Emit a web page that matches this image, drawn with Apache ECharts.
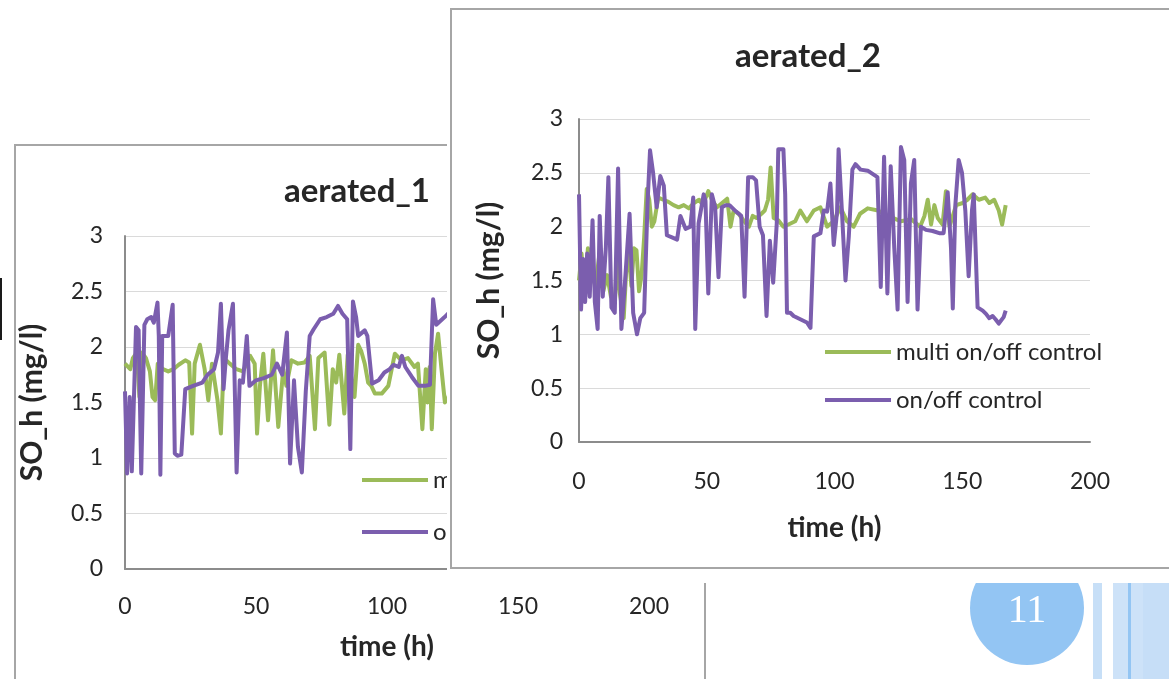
<!DOCTYPE html>
<html><head><meta charset="utf-8">
<script src="https://cdn.jsdelivr.net/npm/echarts@6/dist/echarts.min.js"></script>
<style>html,body{margin:0;padding:0;background:#fff}#c{width:1169px;height:679px}</style>
</head><body><div id="c"></div>
<script>
// ---- data ----
const xTicks = [0, 50, 100, 150, 200];
const yTicks = [0, 0.5, 1, 1.5, 2, 2.5, 3];
const titles = ['aerated_1', 'aerated_2'];
const seriesNames = ['multi on/off control', 'on/off control'];
const xName = 'time (h)';
const yName = 'SO_h (mg/l)';
const slideNumber = '11';

// aerated_1 : multi on/off control
const a1MultiT = [0,2,3,4.5,5.5,6.5,8,9.5,10.5,11.5,12.5,14.5,16.5,18.5,20.5,23,24.5,25.6,26.6,28.6,30.4,31.8,33.2,35.3,36.6,37.8,40,42.5,45,47.8,49.5,50.4,51.5,52.8,54.6,56.5,58.5,60.4,61.6,63.5,66,68.5,70.5,72.5,73.8,76.2,78,79.3,80.6,81.8,83.7,85,87.6,89,90.2,91.5,92.8,94,95.4,98,100.5,103,105.5,108,110.5,111.8,113.5,114.8,115.5,116.3,117.1,118.3,119.5,120.8,122.1,123.5,125.5];
const a1MultiV = [1.85,1.8,1.9,1.95,1.55,1.95,1.9,1.78,1.55,1.52,1.85,1.8,1.78,1.8,1.84,1.88,1.86,1.22,1.85,2.02,1.8,1.52,1.85,1.52,1.22,1.9,1.85,1.8,1.78,1.92,1.85,1.22,1.65,1.94,1.34,1.97,1.28,1.8,1.65,1.88,1.85,1.86,1.92,1.26,1.9,1.95,1.3,1.8,1.68,1.93,1.4,1.93,1.55,2.02,1.96,1.85,1.68,1.65,1.58,1.58,1.65,1.94,1.88,1.9,1.82,1.85,1.26,1.8,1.5,1.82,1.26,1.94,2.12,1.8,1.5,1.55,1.8];
// aerated_1 : on/off control
const a1OnOffT = [0,0.8,1.8,2.6,4.2,5.2,6.2,7.4,8.5,10,11,12.4,12.9,13.5,14.2,16.5,18.2,19,20,21.5,23,26,29.5,31.5,34,35.5,36.6,37.6,38.5,39.5,41.2,42.6,43.8,45,46.5,47.5,50,53,56,58,60,61.8,63,64.5,66,67.5,69,70.5,72,74.5,77,79.5,81.3,83,84.8,86,87,88.2,89,91.5,92.5,94.3,96.8,99,101,102.5,104.5,105.7,107,109.5,112,114.5,116.4,117.6,118.8,122,124.5,126];
const a1OnOffV = [1.6,0.86,1.55,0.88,2.18,2.15,0.86,2.2,2.25,2.27,2.22,2.4,2.1,0.85,2.1,2.1,2.38,1.04,1.02,1.03,1.62,1.65,1.68,1.75,1.8,1.95,2.39,1.62,1.9,2.15,2.39,0.87,1.7,1.68,2.1,1.65,1.7,1.72,1.75,1.85,1.75,2.13,0.95,1.7,1.1,0.87,1.6,2.1,2.16,2.25,2.27,2.3,2.37,2.3,2.25,1.08,2.41,2.27,2.1,2.15,2.1,1.67,1.7,1.77,1.8,1.84,1.82,1.92,1.82,1.73,1.65,1.65,1.66,2.43,2.2,2.27,2.33,2.35];

// aerated_2 : multi on/off control
const a2MultiT = [0,1,2,3.5,5,6.5,8,9.5,11,12.5,14,15,16,17.5,18.5,19.5,20.5,21.5,22.5,23.5,24.5,25.5,26.5,27.5,28.5,29.5,31,33,35,37,39,41,43,45,47,48.5,50.6,52,54,56,58,59.3,60.5,62.5,64.6,66.5,68,69.5,71.4,72.7,74,75,76.2,78,80,82,84.6,86.6,89.2,91.9,94.5,97.1,99.7,102.3,104.9,107.5,110,113,117,121,126,130,133.5,135.2,136.5,137.8,139.1,140.4,142.3,143.6,145,147.6,150.2,152,154,156.5,159,160.6,162.5,164.3,165.6,167];
const a2MultiV = [1.5,1.75,1.4,1.8,1.55,1.45,1.75,1.4,1.55,1.35,1.3,1.7,1.38,1.15,1.6,1.75,1.45,1.8,1.78,1.4,1.55,1.9,2.35,2.25,2.0,2.05,2.27,2.25,2.23,2.2,2.18,2.2,2.17,2.22,2.25,2.2,2.33,2.25,2.18,2.22,2.26,2.0,2.15,2.12,2.05,2.0,2.1,2.08,2.12,2.15,2.25,2.55,2.08,2.06,2.0,2.02,2.05,2.15,2.05,2.15,2.18,2.0,2.05,2.18,2.05,2.0,2.12,2.17,2.15,2.1,2.05,2.07,2.0,2.1,2.25,2.02,2.2,2.08,2.02,2.33,2.0,2.2,2.22,2.25,2.3,2.25,2.27,2.22,2.25,2.15,2.02,2.2];
// aerated_2 : on/off control
const a2OnOffT = [0,0.8,1.6,2.4,3.2,4.2,5.3,6.2,7.3,8.1,9.3,10.5,11.5,12.7,14,15.3,16.6,17.9,19.8,21.2,22.7,24,25.5,26.8,27.8,29,30.4,31.8,33.2,34.4,36.4,38.4,39.7,41.7,43.6,44.7,45.5,46.8,48.8,49.5,50.6,52,53.3,54.6,55.9,57.4,58.9,61.5,63.5,64.8,66.2,68,69.3,70.7,72,73.4,74.7,76,77.4,78,80,80.7,81.4,82.7,84,86.6,89.2,90.6,91.9,94.5,95.8,97.1,98.4,99.7,101,101.6,103,104.3,105.6,107,108.2,110.2,113,116.8,118.1,119.4,120.7,122,123.4,124.7,126,127.3,128.6,129.9,131.2,132.5,133.8,135.8,138.4,141,142.7,144.3,145.6,146.3,147.3,148.6,149.9,151.2,152.5,153.8,154.5,156,158,159.3,160.6,161.9,163,164.3,166.2,167];
const a2OnOffV = [2.3,1.23,1.7,1.3,1.75,1.35,2.06,1.3,1.05,2.1,1.35,1.8,2.46,1.25,1.2,2.54,1.05,1.45,2.12,1.2,1.0,1.15,1.2,2.2,2.71,2.5,2.18,2.47,2.38,1.92,1.9,1.88,2.1,1.98,2.0,2.27,1.05,2.03,2.3,2.24,1.38,2.3,2.18,1.53,2.18,2.2,2.2,2.14,2.1,1.35,2.46,2.46,2.43,2.0,1.92,1.17,1.87,1.48,2.03,2.72,2.72,2.3,1.2,1.2,1.17,1.14,1.11,1.06,1.91,1.94,2.15,2.14,2.4,1.83,2.14,2.72,2.1,1.5,1.91,2.53,2.58,2.53,2.52,2.46,1.44,2.65,1.38,2.56,1.8,1.23,2.74,2.62,1.3,2.4,2.62,1.23,2.0,1.97,1.96,1.94,1.94,2.32,1.8,1.24,2.2,2.62,2.5,2.15,1.54,2.15,2.3,1.25,1.22,1.19,1.15,1.17,1.14,1.1,1.16,1.22];

// ---- build ----
const zip = (t, v) => t.map((x, i) => [x, v[i]]);
const GREEN = '#9bbb59', PURPLE = '#7b5eae';
const FONT = 'Lato';
const TXT = '#262626';

function axes(idx, z, yLabelMargin, xLabelMargin, xNameGap, yNameGap) {
  const common = {
    gridIndex: idx, type: 'value', z: z,
    axisTick: { show: false },
    axisLabel: { fontFamily: FONT, fontSize: 23, color: TXT },
    nameLocation: 'middle'
  };
  const x = Object.assign({}, common, {
    min: xTicks[0], max: xTicks[xTicks.length - 1], interval: xTicks[1] - xTicks[0],
    name: xName, nameGap: xNameGap,
    nameTextStyle: { fontFamily: FONT, fontSize: 28, fontWeight: 'bold', color: TXT },
    axisLine: { show: true, lineStyle: { color: '#8c8c8c', width: 2 } },
    splitLine: { show: false },
    axisLabel: Object.assign({}, common.axisLabel, { margin: xLabelMargin })
  });
  const y = Object.assign({}, common, {
    min: yTicks[0], max: yTicks[yTicks.length - 1], interval: yTicks[1] - yTicks[0],
    name: yName, nameGap: yNameGap,
    nameTextStyle: { fontFamily: FONT, fontSize: 30, fontWeight: 'bold', color: TXT },
    axisLine: { show: true, lineStyle: { color: '#8c8c8c', width: 2 } },
    splitLine: { show: true, lineStyle: { color: '#dadada', width: 1 } },
    axisLabel: Object.assign({}, common.axisLabel, { margin: yLabelMargin })
  });
  return [x, y];
}
const [x0, y0] = axes(0, 2, 22, 26, 64, 78);
const [x1, y1] = axes(1, 60, 16, 28, 72, 75);

function lineSeries(name, data, color, idx, z) {
  return {
    type: 'line', name: name, data: data, xAxisIndex: idx, yAxisIndex: idx,
    showSymbol: false, symbol: 'none', z: z, color: color,
    lineStyle: { width: 4, color: color, join: 'round' }, itemStyle: { color: color },
    animation: false
  };
}

function legend(left, top, gap, z) {
  return {
    data: seriesNames, orient: 'vertical', left: left, top: top, padding: 0,
    itemWidth: 66, itemHeight: 4, itemGap: gap, icon: 'rect', selectedMode: false, z: z,
    textStyle: { fontFamily: FONT, fontSize: 24, color: TXT, lineHeight: 26 }
  };
}

const titleStyle = { fontFamily: FONT, fontSize: 33, fontWeight: 'bold', color: TXT };

const stripes = [
  [1093, 9, '#c7dff7'], [1113, 15, '#cde2f8'], [1128, 3, '#93c5f3'], [1131, 12, '#cde2f8'], [1143, 26, '#c6def7']
];

const option = {
  animation: false,
  backgroundColor: '#fff',
  title: [
    { text: titles[0], left: 357, top: 175, textAlign: 'center', padding: 0, textStyle: titleStyle, z: 3 },
    { text: titles[1], left: 808, top: 40, textAlign: 'center', padding: 0, textStyle: titleStyle, z: 62 }
  ],
  grid: [
    { left: 125, top: 236, width: 524, height: 333, containLabel: false },
    { left: 579, top: 119, width: 511, height: 323, containLabel: false }
  ],
  xAxis: [x0, x1],
  yAxis: [y0, y1],
  legend: [legend(362, 467, 26, 4), legend(825, 339, 22, 62)],
  series: [
    lineSeries(seriesNames[0], zip(a1MultiT, a1MultiV), GREEN, 0, 3),
    lineSeries(seriesNames[1], zip(a1OnOffT, a1OnOffV), PURPLE, 0, 3),
    lineSeries(seriesNames[0], zip(a2MultiT, a2MultiV), GREEN, 1, 61),
    lineSeries(seriesNames[1], zip(a2OnOffT, a2OnOffV), PURPLE, 1, 61)
  ],
  graphic: { elements: [
    { type: 'rect', shape: { x: 15, y: 145, width: 690, height: 600 }, style: { fill: '#fff', stroke: '#a6a6a6', lineWidth: 2 }, z: 1, silent: true },
    { type: 'rect', shape: { x: 0, y: 278, width: 2, height: 62 }, style: { fill: '#1a1a1a' }, z: 1, silent: true },
    { type: 'circle', shape: { cx: 1027, cy: 608, r: 57 }, style: { fill: '#93c5f3' }, z: 1, silent: true },
    { type: 'text', style: { text: slideNumber, x: 1027, y: 611, align: 'center', verticalAlign: 'middle', textAlign: 'center', textVerticalAlign: 'middle', font: '40px "Liberation Serif"', fill: '#ffffff' }, z: 2, silent: true }
  ].concat(stripes.map(s => ({ type: 'rect', shape: { x: s[0], y: 583, width: s[1], height: 100 }, style: { fill: s[2] }, z: 1, silent: true })))
   .concat([
    { type: 'rect', shape: { x: 447, y: 0, width: 730, height: 583 }, style: { fill: '#fff' }, z: 50, silent: true },
    { type: 'rect', shape: { x: 451, y: 9, width: 740, height: 559 }, style: { fill: '#fff', stroke: '#a6a6a6', lineWidth: 2 }, z: 51, silent: true }
  ]) }
};

const chart = echarts.init(document.getElementById('c'), null, { renderer: 'canvas' });
chart.setOption(option);
</script>
</body></html>
